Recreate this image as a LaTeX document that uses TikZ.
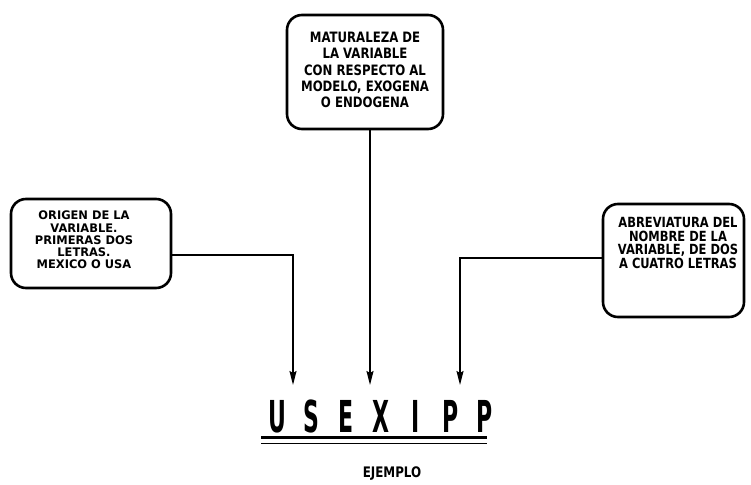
\documentclass[tikz,border=0pt]{standalone}
\usepackage{fontspec}
\usetikzlibrary{arrows.meta}
\newfontfamily\labfont[FakeStretch=0.82]{DejaVu Sans}
\newfontfamily\widefont[FakeStretch=0.97]{DejaVu Sans}
\newfontfamily\bigfont[FakeStretch=0.5]{DejaVu Sans}
\begin{document}
\begin{tikzpicture}[x=1pt,y=-1pt,
  boxtext/.style={align=center,inner sep=0pt,font=\labfont\bfseries},
  arr/.style={line width=1.6pt,-{Stealth[length=14pt,width=7pt,inset=2pt]}}]
\useasboundingbox (0,0) rectangle (751,484);
% boxes
\draw[line width=2.6pt,rounded corners=15pt] (287,15) rectangle (443,129);
\node[boxtext,font=\labfont\bfseries\fontsize{14.3}{16.3}\selectfont] (toptext) at (365,70)
  {MATURALEZA DE\\LA VARIABLE\\CON RESPECTO AL\\MODELO, EXOGENA\\O ENDOGENA};
\draw[line width=2.6pt,rounded corners=15pt] (11,199) rectangle (171,288);
\node[boxtext,font=\widefont\bfseries\fontsize{11.8}{12.2}\selectfont] (lefttext) at (84,240)
  {ORIGEN DE LA\\VARIABLE.\\PRIMERAS DOS\\LETRAS.\\MEXICO O USA};
\draw[line width=2.6pt,rounded corners=15pt] (603,204) rectangle (744,317);
\node[boxtext,font=\labfont\bfseries\fontsize{14}{13.5}\selectfont] (righttext) at (678,243)
  {ABREVIATURA DEL\\NOMBRE DE LA\\VARIABLE, DE DOS\\A CUATRO LETRAS};
% connector points
\coordinate (lb) at (171,255);
\coordinate (lc) at (293,255);
\coordinate (la) at (293,385);
\coordinate (tb) at (370,129);
\coordinate (ta) at (370,385);
\coordinate (rb) at (603,258);
\coordinate (rc) at (460,258);
\coordinate (ra) at (460,385);
\draw[arr] (lb) -- (lc) -- (la);
\draw[arr] (tb) -- (ta);
\draw[arr] (rb) -- (rc) -- (ra);
% code
\node[inner sep=0pt,font=\bigfont\bfseries\fontsize{44}{44}\selectfont] (code) at (381,416)
  {\makebox[27pt]{U} \makebox[27pt]{S} \makebox[27pt]{E} \makebox[27pt]{X} \makebox[27pt]{I} \makebox[27pt]{P} \makebox[27pt]{P}};
\coordinate (ul1) at (261,437.5);
\coordinate (ur1) at (487,437.5);
\coordinate (ul2) at (261,443.5);
\coordinate (ur2) at (487,443.5);
\draw[line width=2.6pt] (ul1) -- (ur1);
\draw[line width=1.6pt] (ul2) -- (ur2);
\node[inner sep=0pt,font=\labfont\bfseries\fontsize{14.5}{14.5}\selectfont] (ej) at (392,474) {EJEMPLO};
\end{tikzpicture}
\end{document}
